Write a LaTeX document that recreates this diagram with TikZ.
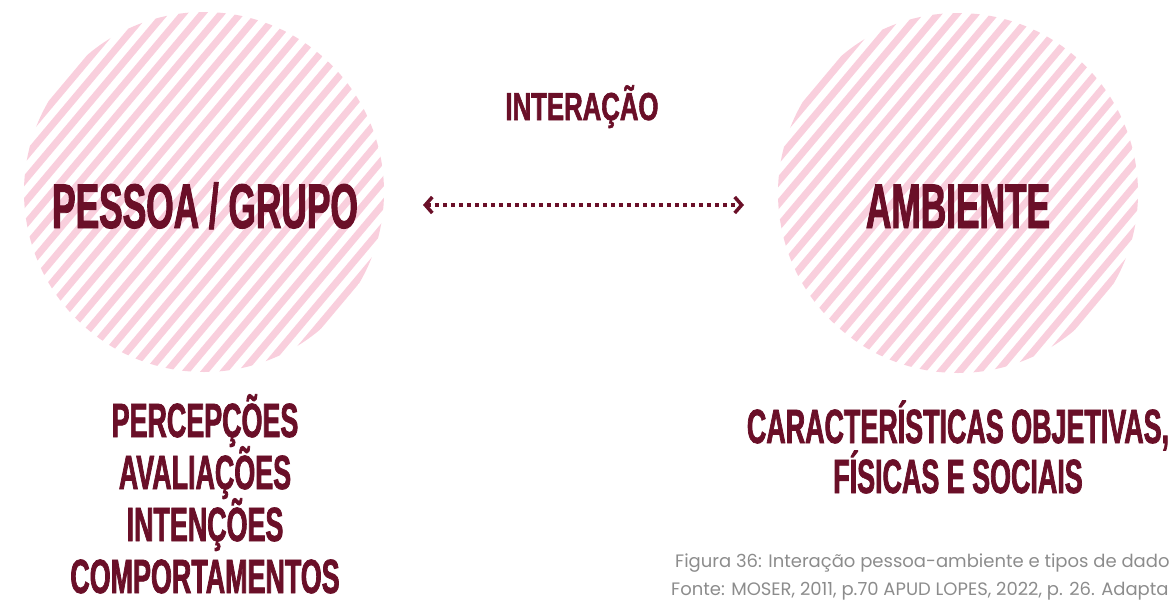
\documentclass[tikz,border=0pt]{standalone}
\usepackage{fontspec}
\usetikzlibrary{arrows.meta,calc,positioning}
\newfontfamily\headfont[FakeStretch=0.56,FakeBold=1.5]{Liberation Sans Bold}
\newfontfamily\midfont[FakeStretch=0.66,FakeBold=1.5]{Liberation Sans Bold}
\newfontfamily\capfont{Poppins}
\definecolor{wine}{HTML}{6A0F28}
\definecolor{stripepink}{HTML}{F9CFDD}
\definecolor{capgray}{HTML}{8C8C8C}

\begin{document}
\begin{tikzpicture}[x=1pt, y=1pt, node distance=52pt, on grid,
		every node/.style={inner sep=0pt, text=wine},
		bigword/.style={font=\headfont\fontsize{63}{63}\selectfont, anchor=base},
		listword/.style={font=\headfont\fontsize{48}{50}\selectfont, text height=36pt, text depth=3pt},
		stripe/.style={draw=stripepink, line width=7pt},
		caption/.style={font=\capfont\fontsize{18}{22}\selectfont, text=capgray, anchor=base west},
		interarrow/.style={wine, line width=3.5pt, dash pattern=on 3.5pt off 4.5pt,
			{Straight Barb[length=7pt,width=16pt,line width=3.5pt]}-{Straight Barb[length=7pt,width=16pt,line width=3.5pt]}}
	]
	\useasboundingbox (0,0) rectangle (1169,-603);
	\coordinate (pessoa-c) at (204,-192);
	\coordinate (ambiente-c) at (958,-193);
	% striped discs
	\foreach \disc in {pessoa-c, ambiente-c}{
		\begin{scope}
			\clip (\disc) circle (180pt);
			\foreach \k in {-13,...,13}
				\draw[stripe] ([shift={(140:\k*14.5pt)}]\disc) ++(50:-200pt) -- ++(50:400pt);
		\end{scope}
	}
	\node[bigword] (pessoa) at (205,-228) {PESSOA / GRUPO};
	\node[bigword] (ambiente) at (958,-228) {AMBIENTE};
	\node[bigword, font=\midfont\fontsize{39}{39}\selectfont] (interacao) at (582,-120) {INTERAÇÃO};
	
	\coordinate (arr-l) at (423,-205);
	\coordinate (arr-r) at (744,-205);
	\draw[interarrow] (arr-l) -- (arr-r);
	
	% lists under the discs
	\node[listword, anchor=base] (percep) at (205,-437) {PERCEPÇÕES};
	\node[listword] (aval) [below=of percep] {AVALIAÇÕES};
	\node[listword] (inten) [below=of aval] {INTENÇÕES};
	\node[listword] (comport) [below=of inten] {COMPORTAMENTOS};
	
	\node[listword, anchor=base] (carac) at (958,-443) {CARACTERÍSTICAS OBJETIVAS,};
	\node[listword] (fisicas) [below=50pt of carac] {FÍSICAS E SOCIAIS};
	
	\node[caption] (fig) at (675,-567) {Figura 36: Interação pessoa-ambiente e tipos de dados};
	\node[caption] (fonte) at (671,-595) {Fonte: MOSER, 2011, p.70 APUD LOPES, 2022, p. 26. Adaptado.};
\end{tikzpicture}
\end{document}
